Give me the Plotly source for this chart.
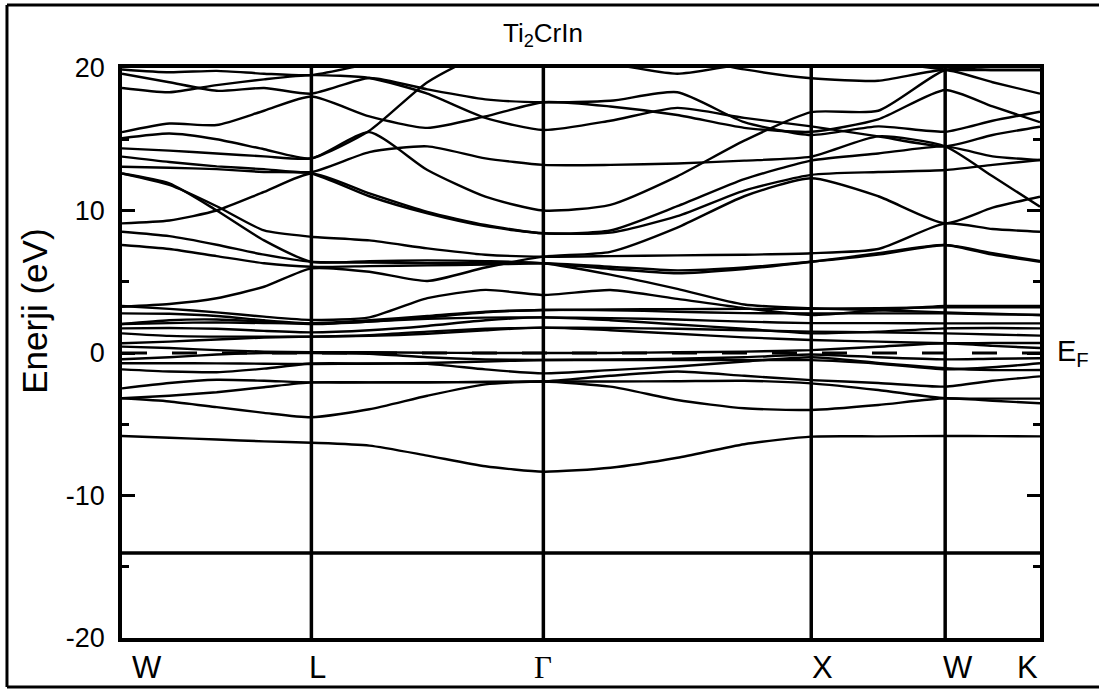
import numpy as np
import plotly.graph_objects as go

# ---------------- data ----------------
k_labels = ["W", "L", "Γ", "X", "W", "K"]
k_nodes = [0.0, 0.707, 1.573, 2.573, 3.073, 3.427]
seg_divs = [4, 4, 4, 2, 2]
e_fermi = 0.0
y_tickvals = [-20, -10, 0, 10, 20]
y_ticktext = ["-20", "-10", "0", "10", "20"]

# energies (eV) at W,..,L,..,Γ,..,X,.,W,.,K (17 samples)
core_a = [-14.0, -14.0, -14.0, -14.0, -14.0, -14.0, -14.0, -14.0, -14.0, -14.0, -14.0, -14.0, -14.0, -14.0, -14.0, -14.0, -14.0]
core_b = [-14.08, -14.08, -14.08, -14.08, -14.08, -14.08, -14.08, -14.08, -14.08, -14.08, -14.08, -14.08, -14.08, -14.08, -14.08, -14.08, -14.08]
band_s = [-5.82, -5.95, -6.07, -6.2, -6.3, -6.5, -7.2, -7.95, -8.33, -8.05, -7.35, -6.4, -5.87, -5.85, -5.82, -5.83, -5.85]
band_a1 = [-3.18, -3.4, -3.8, -4.2, -4.51, -3.95, -3.0, -2.2, -2.0, -2.36, -3.3, -3.88, -4.0, -3.65, -3.18, -3.35, -3.53]
band_a2 = [-3.18, -3.0, -2.75, -2.4, -2.06, -2.06, -2.05, -2.03, -2.0, -2.0, -1.98, -1.95, -2.13, -2.6, -3.18, -3.2, -3.2]
band_a3 = [-2.48, -2.1, -1.88, -1.95, -2.06, -2.06, -2.05, -2.03, -2.0, -1.6, -1.3, -1.6, -1.9, -2.1, -2.36, -1.95, -1.64]
band_a4 = [-1.15, -1.3, -1.35, -1.1, -0.74, -0.74, -0.76, -1.15, -1.43, -1.2, -0.95, -0.6, -0.3, -0.7, -1.07, -1.2, -1.19]
band_a5 = [-0.72, -0.72, -0.73, -0.75, -0.77, -0.75, -0.7, -0.6, -0.49, -0.5, -0.5, -0.5, -0.5, -0.75, -1.15, -1.0, -0.72]
band_a6 = [-0.44, -0.3, -0.1, 0.0, 0.0, -0.05, -0.3, -0.45, -0.49, -0.45, -0.4, -0.3, -0.1, -0.3, -0.45, -0.4, -0.37]
band_b1 = [0.45, 0.35, 0.2, 0.1, 0.05, 0.05, 0.02, 0.0, 0.0, 0.0, 0.05, 0.1, 0.2, 0.44, 0.68, 0.5, 0.35]
band_b2 = [0.68, 0.8, 0.95, 1.08, 1.15, 1.2, 1.35, 1.6, 1.78, 1.6, 1.35, 1.1, 0.91, 0.8, 0.68, 0.7, 0.7]
band_b3 = [1.38, 1.2, 1.15, 1.15, 1.15, 1.25, 1.5, 1.7, 1.78, 1.75, 1.7, 1.6, 1.5, 1.45, 1.38, 1.3, 1.22]
band_b4 = [1.73, 1.75, 1.7, 1.55, 1.45, 1.6, 1.9, 2.3, 2.5, 2.3, 2.0, 1.7, 1.38, 1.5, 1.73, 1.75, 1.73]
band_b5 = [2.03, 2.3, 2.35, 2.2, 2.03, 2.2, 2.4, 2.48, 2.5, 2.45, 2.35, 2.2, 2.1, 2.1, 2.08, 2.08, 2.08]
band_b6 = [2.78, 2.75, 2.6, 2.3, 2.08, 2.2, 2.5, 2.85, 3.02, 3.0, 2.9, 2.8, 2.78, 2.78, 2.78, 2.72, 2.67]
band_b7 = [3.3, 3.1, 2.85, 2.55, 2.32, 2.5, 3.85, 4.43, 4.07, 4.42, 3.8, 3.15, 2.67, 3.0, 3.3, 3.3, 3.3]
band_b8 = [2.03, 2.1, 2.15, 2.1, 2.08, 2.3, 2.6, 2.9, 3.02, 3.05, 3.08, 3.1, 3.1, 3.15, 3.2, 3.2, 3.2]
band_c1 = [3.25, 3.44, 3.84, 4.65, 5.94, 5.7, 5.05, 6.0, 6.76, 7.1, 8.8, 11.0, 12.26, 11.0, 9.1, 10.2, 10.97]
band_c2 = [12.6, 11.8, 10.3, 8.6, 8.16, 7.9, 7.34, 6.9, 6.76, 6.8, 6.85, 6.9, 7.0, 7.3, 9.1, 8.7, 8.51]
band_c3 = [12.6, 11.9, 10.0, 7.9, 6.4, 6.45, 6.5, 6.45, 6.3, 5.5, 4.5, 3.4, 3.14, 3.0, 2.85, 2.75, 2.67]
band_c4 = [8.51, 8.2, 7.6, 6.9, 6.4, 6.35, 6.3, 6.3, 6.3, 5.9, 5.6, 5.9, 6.4, 7.0, 7.58, 6.9, 6.4]
band_c5 = [7.58, 7.3, 6.8, 6.3, 6.05, 6.1, 6.15, 6.2, 6.3, 6.05, 5.8, 6.0, 6.4, 6.9, 7.58, 7.0, 6.45]
band_c6 = [9.1, 9.3, 10.0, 11.3, 12.6, 11.2, 9.9, 8.98, 8.4, 8.6, 10.3, 12.2, 13.5, 14.0, 14.5, 13.8, 13.54]
band_c7 = [13.07, 13.0, 12.9, 12.7, 12.6, 11.0, 9.8, 8.9, 8.4, 8.45, 9.6, 11.4, 12.5, 12.7, 12.84, 13.2, 13.54]
band_c8 = [15.07, 15.4, 15.0, 14.3, 13.66, 15.5, 12.84, 10.97, 10.0, 10.4, 12.4, 14.9, 16.9, 17.0, 19.86, 19.86, 19.86]
band_d1 = [13.78, 13.4, 13.1, 12.9, 12.7, 14.1, 14.5, 13.66, 13.2, 13.2, 13.3, 13.5, 13.78, 15.2, 14.5, 12.4, 10.27]
band_e1 = [19.6, 19.0, 18.4, 18.6, 18.2, 19.3, 18.5, 17.8, 17.6, 17.7, 18.3, 16.2, 15.3, 15.9, 15.53, 16.3, 16.93]
band_e2 = [15.5, 16.1, 16.0, 17.0, 18.0, 16.6, 15.8, 16.6, 17.6, 17.3, 16.7, 15.8, 15.53, 16.4, 18.46, 17.3, 16.2]
band_e3 = [18.6, 18.3, 18.8, 19.2, 19.5, 19.3, 18.2, 16.5, 15.65, 16.3, 17.2, 16.5, 15.9, 15.2, 14.5, 15.3, 15.88]
band_e4 = [14.36, 14.2, 14.0, 13.8, 13.66, 15.6, 19.0, 21.0, 21.0, 21.0, 21.0, 21.0, 21.0, 21.0, 21.0, 21.0, 21.0]
band_e5 = [19.9, 19.7, 19.8, 19.6, 19.5, 20.3, 21.0, 21.0, 21.0, 20.3, 19.6, 20.3, 21.0, 20.5, 19.9, 19.86, 19.86]
band_e6 = [21.0, 21.0, 21.0, 21.0, 21.0, 21.0, 21.0, 21.0, 21.0, 21.0, 20.8, 19.9, 19.28, 19.1, 19.86, 19.0, 18.2]

bands = [core_a, core_b, band_s, band_a1, band_a2, band_a3, band_a4, band_a5, band_a6,
         band_b1, band_b2, band_b3, band_b4, band_b5, band_b6, band_b7, band_b8,
         band_c1, band_c2, band_c3, band_c4, band_c5, band_c6, band_c7, band_c8,
         band_d1, band_e1, band_e2, band_e3, band_e4, band_e5, band_e6]

# ---------------- k path ----------------
k = []
for i, n in enumerate(seg_divs):
    pts = np.linspace(k_nodes[i], k_nodes[i + 1], n + 1)
    if i > 0:
        pts = pts[1:]
    k.extend(pts.tolist())

fig = go.Figure()
for b in bands:
    fig.add_trace(go.Scatter(x=k, y=b, mode="lines",
                             line=dict(color="black", width=2.4, shape="spline", smoothing=0.6),
                             showlegend=False, hoverinfo="skip"))

fig.add_trace(go.Scatter(x=[k_nodes[0], k_nodes[-1]], y=[e_fermi, e_fermi], mode="lines",
                         line=dict(color="black", width=3, dash="25px,25px"),
                         showlegend=False, hoverinfo="skip"))

for kv in k_nodes[1:-1]:
    fig.add_shape(type="line", x0=kv, x1=kv, y0=-20, y1=20, xref="x", yref="y",
                  line=dict(color="black", width=3.5))

font_main = "Liberation Sans, Arial, sans-serif"
label_shift = [25, 6, 0, 11, 13, -13]
for lab, kv, sh in zip(k_labels, k_nodes, label_shift):
    fam = "Liberation Serif, Times New Roman, serif" if lab == "Γ" else font_main
    fig.add_annotation(x=kv, y=0, xref="x", yref="paper", text=lab, showarrow=False,
                       xshift=sh, yshift=-29, yanchor="middle", xanchor="center",
                       font=dict(family=fam, size=31, color="black"))

fig.add_annotation(x=k_nodes[2], y=1.058, xref="x", yref="paper", text="Ti<sub>2</sub>CrIn",
                   showarrow=False, font=dict(family=font_main, size=26, color="black"),
                   xanchor="center", yanchor="middle")
fig.add_annotation(x=-0.0948, y=0.574, xref="paper", yref="paper", text="Enerji (eV)",
                   textangle=-90, showarrow=False, font=dict(family=font_main, size=35, color="black"),
                   xanchor="center", yanchor="middle")
fig.add_annotation(x=1, y=e_fermi, xref="paper", yref="y", text="E<sub>F</sub>", xshift=15,
                   showarrow=False, xanchor="left", yanchor="middle",
                   font=dict(family=font_main, size=29, color="black"))

# outer picture frame: left, top and bottom edges only
frame_line = dict(color="black", width=3)
fig.add_shape(type="line", xref="paper", yref="paper", x0=-0.1253, x1=-0.1253, y0=-0.086, y1=1.1105,
              line=frame_line, layer="above")
fig.add_shape(type="line", xref="paper", yref="paper", x0=-0.1253, x1=1.2, y0=1.1105, y1=1.1105,
              line=frame_line, layer="above")
fig.add_shape(type="line", xref="paper", yref="paper", x0=-0.1253, x1=1.2, y0=-0.086, y1=-0.086,
              line=frame_line, layer="above")

fig.update_layout(
    width=1099, height=689,
    margin=dict(l=122, r=59, t=68, b=51),
    paper_bgcolor="white", plot_bgcolor="white",
    font=dict(family=font_main, color="black"),
    xaxis=dict(range=[k_nodes[0], k_nodes[-1]], showticklabels=False, ticks="",
               showline=True, mirror=True, linecolor="black", linewidth=3.5,
               showgrid=False, zeroline=False),
    yaxis=dict(range=[-20, 20], tickvals=y_tickvals, ticktext=y_ticktext, ticks="inside", ticklen=13,
               tickwidth=2.5, tickcolor="black", mirror="allticks", showline=True,
               linecolor="black", linewidth=3.5, showgrid=False, zeroline=False,
               ticklabelstandoff=8,
               tickfont=dict(size=27, family=font_main, color="black"),
               minor=dict(tickvals=[-15, -5, 5, 15], ticks="inside", ticklen=7,
                          tickwidth=2.5, tickcolor="black")),
)

fig.write_html("out.html")
